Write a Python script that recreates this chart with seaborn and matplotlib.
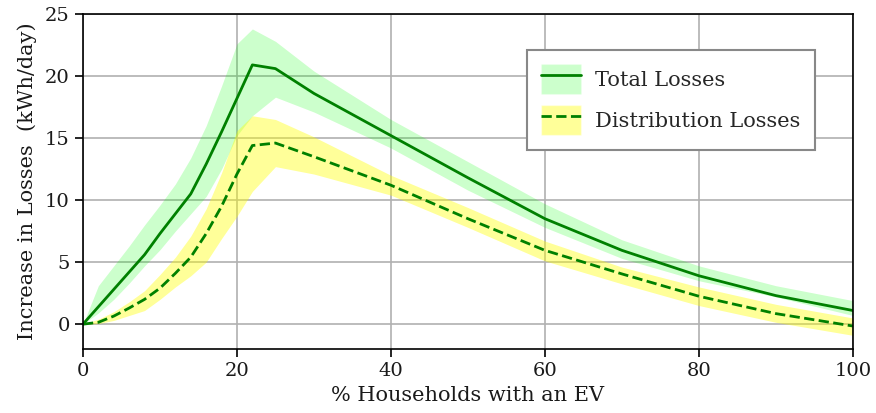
import numpy as np
import pandas as pd
import seaborn as sns
import matplotlib.pyplot as plt
from matplotlib.patches import Patch
from matplotlib.lines import Line2D

# % of households with an EV
ev_share = [0, 2, 4, 6, 8, 10, 12, 14, 16, 18, 20, 22, 25, 30, 40, 50, 60, 70, 80, 90, 100]

# Total losses (mean, upper, lower) in kWh/day
total_mean = [0, 1.4, 2.8, 4.2, 5.6, 7.3, 8.9, 10.5, 12.9, 15.5, 18.2, 20.9, 20.6, 18.6,
              15.2, 11.8, 8.5, 5.95, 3.9, 2.3, 1.1]
total_upper = [0, 3.1, 4.7, 6.3, 8.0, 9.6, 11.3, 13.4, 16.0, 19.2, 22.6, 23.8, 22.8, 20.4,
               16.5, 13.1, 9.7, 6.8, 4.7, 3.1, 1.9]
total_lower = [0, 0.9, 2.0, 3.3, 4.7, 6.0, 7.5, 8.9, 10.3, 12.5, 15.2, 16.8, 18.3, 17.1,
               14.2, 10.8, 7.8, 5.3, 3.5, 2.2, 0.7]

# Distribution losses (mean, upper, lower) in kWh/day
dist_mean = [0, 0.15, 0.65, 1.3, 2.0, 2.9, 4.1, 5.4, 7.3, 9.5, 12.1, 14.4, 14.6, 13.5,
             11.2, 8.5, 5.95, 4.05, 2.25, 0.85, -0.15]
dist_upper = [0, 0.4, 1.0, 1.8, 2.7, 4.0, 5.4, 7.1, 9.3, 12.2, 15.6, 16.8, 16.5, 15.1,
              12.0, 9.4, 6.7, 4.6, 3.0, 1.6, 0.5]
dist_lower = [0, 0.05, 0.3, 0.7, 1.1, 2.0, 3.0, 3.9, 5.0, 6.9, 8.7, 10.7, 12.7, 12.1,
              10.4, 7.8, 5.1, 3.25, 1.5, 0.15, -0.9]

sns.set_theme(style='ticks')
plt.rcParams['font.family'] = ['DejaVu Serif']
plt.rcParams['mathtext.fontset'] = 'dejavuserif'

df = pd.DataFrame({'ev': ev_share, 'total': total_mean, 'dist': dist_mean})

fig, ax = plt.subplots(figsize=(8.76, 4.13), dpi=100)
fig.subplots_adjust(left=0.0947, right=0.9737, top=0.966, bottom=0.155)

ax.fill_between(ev_share, total_lower, total_upper, color='lime', alpha=0.2, linewidth=0)
ax.fill_between(ev_share, dist_lower, dist_upper, color='yellow', alpha=0.4, linewidth=0)
sns.lineplot(data=df, x='ev', y='total', color='green', linewidth=2, ax=ax)
sns.lineplot(data=df, x='ev', y='dist', color='green', linewidth=2, linestyle='--', ax=ax)

ax.set_xlim(0, 100)
ax.set_ylim(-2, 25)
ax.set_xticks([0, 20, 40, 60, 80, 100])
ax.set_yticks([0, 5, 10, 15, 20, 25])
ax.grid(True, color='#b0b0b0', linewidth=1.2)
ax.set_axisbelow(True)
for s in ax.spines.values():
    s.set_color('black')
    s.set_linewidth(1.2)
ax.tick_params(labelsize=14, length=6, width=1.2, color='black', labelcolor='#1a1a1a')
ax.set_xlabel('% Households with an EV', fontsize=15, color='#1a1a1a', labelpad=4)
ax.set_ylabel('Increase in Losses  (kWh/day)', fontsize=15, color='#1a1a1a', labelpad=6)

h_total = (Patch(facecolor='lime', alpha=0.2), Line2D([], [], color='green', linewidth=2))
h_dist = (Patch(facecolor='yellow', alpha=0.4), Line2D([], [], color='green', linewidth=2, linestyle='--'))
leg = ax.legend([h_total, h_dist], ['Total Losses', 'Distribution Losses'],
                loc='upper right', bbox_to_anchor=(0.951, 0.893), fontsize=15,
                fancybox=False, framealpha=1, edgecolor='#888888',
                borderpad=0.7, labelspacing=0.5, handlelength=1.9, handleheight=1.84,
                handletextpad=0.7, borderaxespad=0)
leg.get_frame().set_linewidth(1.5)

fig.savefig('out.png', dpi=100)
